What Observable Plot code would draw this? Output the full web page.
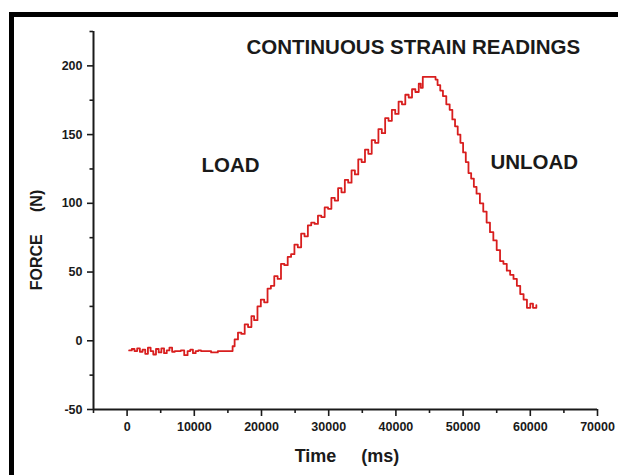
<!DOCTYPE html>
<html>
<head>
<meta charset="utf-8">
<script src="https://cdn.jsdelivr.net/npm/d3@7"></script>
<script src="https://cdn.jsdelivr.net/npm/@observablehq/plot@0.6"></script>
<style>
  html, body { margin: 0; padding: 0; background: #fff; overflow: hidden; width: 618px; height: 475px; }
  #wrap { position: relative; width: 618px; height: 475px; overflow: hidden; background: #fff;
          font-family: "Liberation Sans", Arial, sans-serif; font-weight: bold; color: #1a1a1a; }
  #chart svg { display: block; }
  .bar { position: absolute; background: #000; }
  #barL { left: 9px; top: 12px; width: 5px; height: 463px; }
  #barT { left: 9px; top: 12px; width: 609px; height: 5px; }
  .lab { position: absolute; white-space: pre; text-align: center; line-height: 18px; }
  #xlab { left: 247px; top: 447px; width: 200px; height: 18px; font-size: 18px; }
  #ylab { left: -63px; top: 231px; width: 200px; height: 18px; font-size: 16px; transform: rotate(-90deg); }
</style>
</head>
<body>
<div id="wrap">
  <div id="chart"></div>
  <div id="barL" class="bar"></div>
  <div id="barT" class="bar"></div>
  <div id="xlab" class="lab"></div>
  <div id="ylab" class="lab"></div>
</div>
<script>
// ---- data ----
const timeMs = [
  300, 700, 1100, 1500, 1900, 2300, 2700, 3100, 3500, 3900, 4300, 4700, 5100, 5500, 5900, 6300,
  6700, 7100, 7500, 8000, 8500, 9000, 9400, 9800, 10200, 10600, 11000, 11500, 12500, 13500,
  14500, 15300, 15700, 15900,
  16000, 16500, 17000, 17500, 18000, 18500, 18900, 19400, 19900, 20400, 20900, 21400, 21900,
  22400, 22900, 23400, 23900, 24400, 24900, 25400, 25900, 26400, 26900, 27400, 27900, 28400,
  28900, 29400, 29900, 30400, 30900, 31400, 31900, 32400, 32900, 33400, 33900, 34400, 34900,
  35400, 35900, 36400, 36900, 37400, 37900, 38400, 38900, 39400, 39900, 40400, 40900, 41400,
  41900, 42400, 42900, 43400, 43700, 44000, 44500, 45000, 45500, 45900,
  46200, 46600, 47000, 47500, 48000, 48400, 48800, 49200, 49600, 50000, 50400, 50800, 51200,
  51600, 52000, 52500, 53000, 53500, 54000, 54500, 55000, 55500, 56000, 56500, 57000, 57500,
  58000, 58500, 59000, 59500, 60000, 60400, 60900
];
const forceN = [
  -7, -6, -7.5, -5.5, -8, -6.5, -9.5, -5, -7.5, -10, -6, -8.5, -5.5, -9, -7, -5,
  -8, -7.5, -7.5, -7, -10.5, -7.5, -6.5, -9, -7.5, -7, -7.5, -7.5, -8.5, -7.5,
  -7.5, -7.5, -4, -4,
  1, 6, 5, 12, 10, 18, 15, 25, 30, 28, 38, 40, 47,
  45, 56, 55, 61, 63, 70, 68, 78, 76, 84, 86, 85, 91,
  90, 97, 96, 104, 102, 111, 108, 117, 115, 124, 121, 132, 130,
  139, 136, 146, 144, 154, 151, 162, 160, 168, 165, 174, 172, 179,
  177, 183, 181, 187, 184, 192, 192, 192, 192, 190,
  186, 182, 178, 172, 168, 161, 156, 150, 144, 137, 130, 122, 118,
  112, 107, 100, 94, 86, 79, 73, 66, 58, 56, 51, 48, 45,
  40, 34, 30, 24, 27, 24, 26
];
const xMajorTicks = [0, 10000, 20000, 30000, 40000, 50000, 60000, 70000];
const xMinorTicks = [-5000, 5000, 15000, 25000, 35000, 45000, 55000, 65000];
const yMajorTicks = [-50, 0, 50, 100, 150, 200];
const yMinorTicks = [-25, 25, 75, 125, 175, 225];
const noteText = ["CONTINUOUS STRAIN READINGS", "LOAD", "UNLOAD"];
const noteTime = [42600, 15400, 60600];
const noteForce = [213.5, 127.5, 130];
const xTitle = "Time\u00a0\u00a0\u00a0\u00a0\u00a0(ms)";
const yTitle = "FORCE\u00a0\u00a0\u00a0\u00a0\u00a0(N)";

const series = timeMs.map((t, i) => ({t, f: forceN[i]}));
const notes = noteText.map((s, i) => ({s, t: noteTime[i], f: noteForce[i]}));
const axisColor = "#1a1a1a";
const plainFormat = d => String(d);

const chart = Plot.plot({
  width: 618,
  height: 475,
  marginLeft: 93,
  marginRight: 21,
  marginTop: 31,
  marginBottom: 66,
  x: {domain: [-5000, 70000]},
  y: {domain: [-50, 225]},
  style: {fontFamily: "'Liberation Sans', Arial, sans-serif", fontWeight: "bold", color: axisColor, background: "transparent"},
  marks: [
    Plot.axisX({ticks: xMajorTicks, tickSize: 7, tickPadding: 6, fontSize: 12.5, tickFormat: plainFormat, label: null, strokeWidth: 1.6}),
    Plot.axisX({ticks: xMinorTicks, tickSize: 4, text: null, label: null, strokeWidth: 1.6}),
    Plot.axisY({ticks: yMajorTicks, tickSize: 6, tickPadding: 5, fontSize: 12.5, tickFormat: plainFormat, label: null, strokeWidth: 1.6}),
    Plot.axisY({ticks: yMinorTicks, tickSize: 3.5, text: null, label: null, strokeWidth: 1.6}),
    Plot.ruleY([-50], {stroke: axisColor, strokeWidth: 2}),
    Plot.ruleX([-5000], {stroke: axisColor, strokeWidth: 2}),
    Plot.line(series, {x: "t", y: "f", curve: "step-after", stroke: "#d81e1e", strokeWidth: 1.8}),
    Plot.text(notes, {x: "t", y: "f", text: "s", fontSize: 20.5, fontWeight: "bold", fill: axisColor})
  ]
});
document.getElementById("chart").appendChild(chart);
document.getElementById("xlab").textContent = xTitle;
document.getElementById("ylab").textContent = yTitle;
</script>
</body>
</html>
